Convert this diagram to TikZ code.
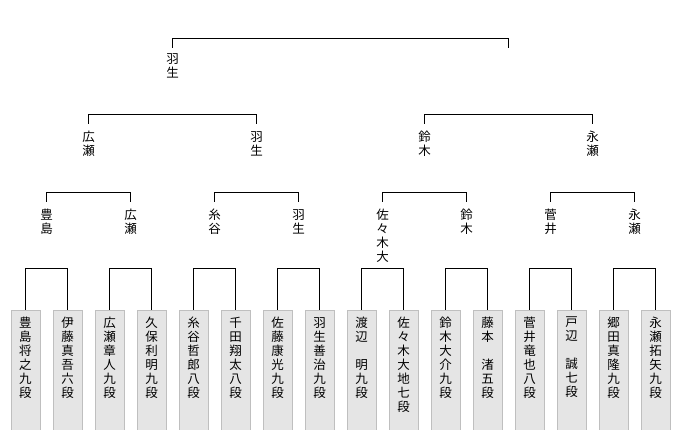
\documentclass[tikz,border=0pt]{standalone}
\usepackage{fontspec}
\newfontfamily\jp{Noto Sans CJK JP}
\begin{document}
\begin{tikzpicture}[x=1pt,y=-1pt,
  vt/.style={anchor=north,inner sep=0pt,align=center,font=\jp\fontsize{12.5}{14}\selectfont},
  leafbox/.style={draw=black!25,fill=black!10,line width=0.8pt},
  conn/.style={draw=black,line width=0.8pt}]
\useasboundingbox (0,0) rectangle (680,430);
% leaves
\foreach \t [count=\i] in {豊\\島\\将\\之\\九\\段,伊\\藤\\真\\吾\\六\\段,広\\瀬\\章\\人\\九\\段,久\\保\\利\\明\\九\\段,
 糸\\谷\\哲\\郎\\八\\段,千\\田\\翔\\太\\八\\段,佐\\藤\\康\\光\\九\\段,羽\\生\\善\\治\\九\\段,
 渡\\辺\\　\\明\\九\\段,佐\\々\\木\\大\\地\\七\\段,鈴\\木\\大\\介\\九\\段,藤\\本\\　\\渚\\五\\段,
 菅\\井\\竜\\也\\八\\段,戸\\辺\\　\\誠\\七\\段,郷\\田\\真\\隆\\九\\段,永\\瀬\\拓\\矢\\九\\段}{
  \pgfmathsetmacro\cx{25.5+42*(\i-1)}
  \path[leafbox] (\cx-14.5,310) rectangle (\cx+14.5,432);
  \node[vt] (l\i) at (\cx,317) {\t};
  \coordinate (lt\i) at (\cx,310);
}
% round 2 labels
\foreach \t [count=\i] in {豊\\島,広\\瀬,糸\\谷,羽\\生,佐\\々\\木\\大,鈴\\木,菅\\井,永\\瀬}{
  \pgfmathsetmacro\cx{46.5+84*(\i-1)}
  \node[vt] (a\i) at (\cx,209) {\t};
  \coordinate (at\i) at (\cx,202);
}
\foreach \t [count=\i] in {広\\瀬,羽\\生,鈴\\木,永\\瀬}{
  \pgfmathsetmacro\cx{88.5+168*(\i-1)}
  \node[vt] (b\i) at (\cx,131) {\t};
  \coordinate (bt\i) at (\cx,124);
}
\node[vt] (c1) at (172.5,53) {羽\\生};
\coordinate (ct1) at (172.5,48);
\coordinate (ct2) at (508.5,48);
% connectors
\foreach \i in {1,...,8}{
  \pgfmathtruncatemacro\p{2*\i-1}\pgfmathtruncatemacro\q{2*\i}
  \draw[conn] (lt\p) -- ++(0,-42) -| (lt\q);
}
\foreach \i in {1,...,4}{
  \pgfmathtruncatemacro\p{2*\i-1}\pgfmathtruncatemacro\q{2*\i}
  \draw[conn] (at\p) -- ++(0,-10) -| (at\q);
}
\foreach \i in {1,2}{
  \pgfmathtruncatemacro\p{2*\i-1}\pgfmathtruncatemacro\q{2*\i}
  \draw[conn] (bt\p) -- ++(0,-10) -| (bt\q);
}
\draw[conn] (ct1) -- ++(0,-10) -| (ct2);
\end{tikzpicture}
\end{document}
